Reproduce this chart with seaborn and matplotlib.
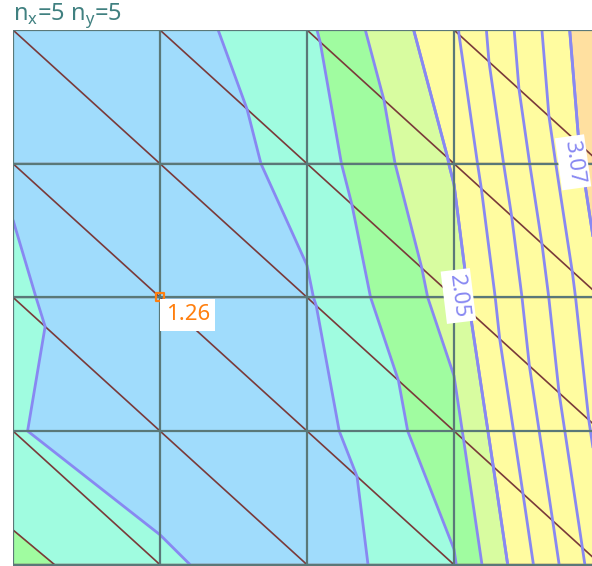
import numpy as np
import matplotlib
matplotlib.use('Agg')
import matplotlib.pyplot as plt
import matplotlib.tri as mtri
import seaborn as sns

# grid nodes (column index, row index counted from the top)
node_x = [0, 1, 2, 3, 4]
node_y = [0, 1, 2, 3, 4]

# field value at every node, one row per node_y
z_rows = [
    [1.300, 1.332, 1.600, 2.220, 3.300],
    [1.414, 1.278, 1.511, 2.070, 3.220],
    [1.471, 1.260, 1.415, 1.940, 3.060],
    [1.451, 1.320, 1.342, 1.780, 2.950],
    [1.709, 1.472, 1.306, 1.624, 2.790],
]

# filled bands and contour lines
fill_levels = [1.0, 1.438, 1.642, 1.846, 2.05, 3.07, 4.0]
fill_colors = ['#a0dcfc', '#a0fce0', '#a0fca0', '#d8fca0', '#fffca0', '#ffe0a0']
line_levels = [1.438, 1.642, 1.846, 2.05, 2.254, 2.458, 2.662, 2.866, 3.07]
label_levels = [2.05, 3.07]
label_spots = [(3.03, 1.99), (3.81, 0.99)]

# marked node
mark_col, mark_row = 1, 2

sns.set_theme(style='white')
plt.rcParams['font.family'] = ['Noto Sans', 'DejaVu Sans']

X, Y = np.meshgrid(node_x, node_y)
Z = np.array(z_rows)
nx, ny = len(node_x), len(node_y)

tris = []
for j in range(ny - 1):
    for i in range(nx - 1):
        a = j * nx + i
        tris.append([a, a + 1, a + nx + 1])   # upper right half
        tris.append([a, a + nx, a + nx + 1])  # lower left half
tri = mtri.Triangulation(X.ravel(), Y.ravel(), tris)

# corner triangle gets its own line colour
corner = (3 * (nx - 1) + 0) * 2 + 1
mask = np.zeros(len(tris), bool)
mask[corner] = True
tri_lines = mtri.Triangulation(X.ravel(), Y.ravel(), tris, mask=mask)
tri_corner = mtri.Triangulation(X.ravel(), Y.ravel(), [tris[corner]])

fig = plt.figure(figsize=(5.92, 5.66), dpi=100)
ax = fig.add_axes([13 / 592, 0, 579 / 592, 536 / 566])

ax.tricontourf(tri, Z.ravel(), levels=fill_levels, colors=fill_colors)
ax.tricontour(tri_lines, Z.ravel(), levels=line_levels, colors='#8888f2', linewidths=2)
ax.tricontour(tri_corner, Z.ravel(), levels=[1.642], colors='#7a3a3a', linewidths=1.2)
cs_lab = ax.tricontour(tri_lines, Z.ravel(), levels=label_levels, colors='#8888f2', linewidths=2)

ax.triplot(tri, color='#7a3a3a', lw=1.2)
ax.vlines(node_x, node_y[0], node_y[-1], color='#5a7878', lw=1.6)
ax.hlines(node_y, node_x[0], node_x[-1], color='#5a7878', lw=1.6)

labels = ax.clabel(cs_lab, manual=label_spots, inline=False, fmt='%.2f', fontsize=16)
for t, spot in zip(labels, label_spots):
    r = (t.get_rotation() + 180) % 360 - 180
    t.set_rotation(-r)
    t.set_position(spot)
    t.set_bbox(dict(facecolor='white', edgecolor='none', pad=3))
    t.set_zorder(6)

sns.scatterplot(x=[node_x[mark_col]], y=[node_y[mark_row]], marker='s', s=36,
                facecolor='none', edgecolor='#ff7f0e', linewidth=1.6, ax=ax, zorder=5)
ax.annotate(f'{z_rows[mark_row][mark_col]:.2f}', xy=(node_x[mark_col], node_y[mark_row]),
            xytext=(4, -5), textcoords='offset points', ha='left', va='top',
            color='#ff7f0e', fontsize=16, zorder=6,
            bbox=dict(facecolor='white', edgecolor='none', pad=4))

ax.set_xlim(0, 579 / 147)
ax.set_ylim(4.01, 0)
ax.set_xticks([])
ax.set_yticks([])
for s in ax.spines.values():
    s.set_visible(False)

ax.set_title(r'n$_\mathregular{x}$=5 n$_\mathregular{y}$=5', loc='left',
             color='#408080', fontsize=17, pad=1)

fig.savefig('out.png', dpi=100)
